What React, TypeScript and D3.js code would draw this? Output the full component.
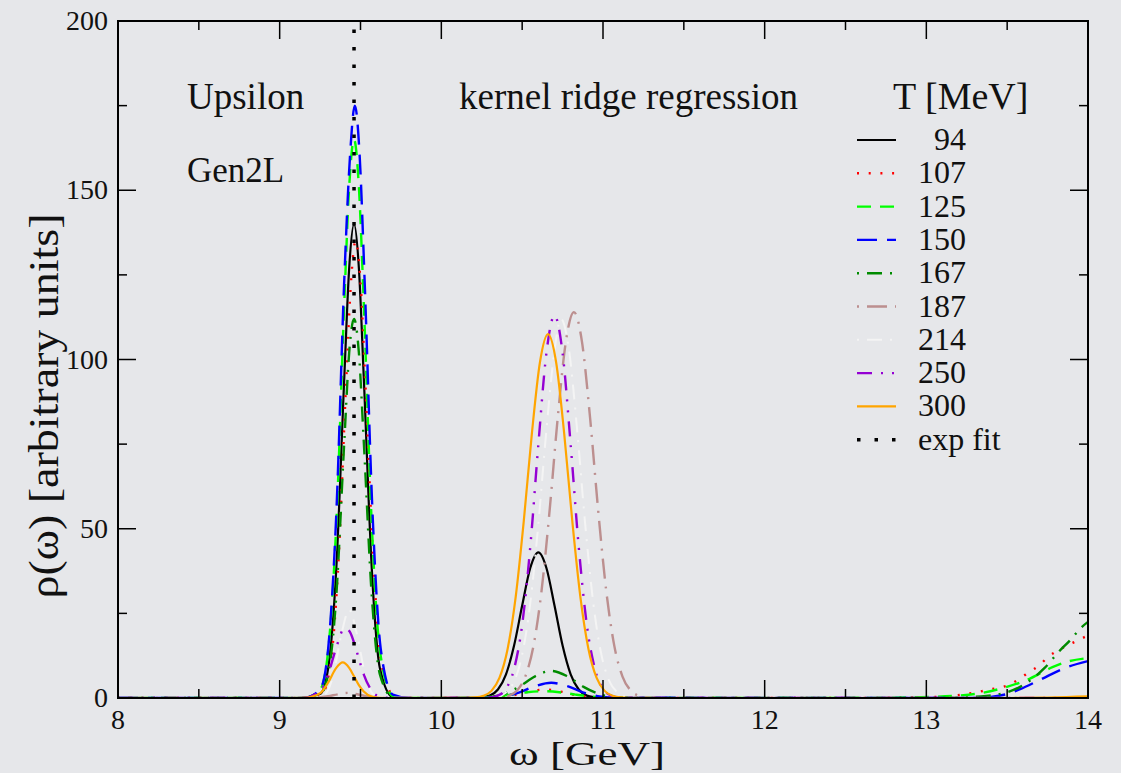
import React from "react";
import * as d3 from "d3";

type Pt = [number, number];

const xTicks = [8, 9, 10, 11, 12, 13, 14];
const yTicks = [0, 50, 100, 150, 200];

const t94: Pt[] = [[8,0],[9.1,0],[9.25,1.2],[9.3,8.8],[9.35,38],[9.4,95],[9.43,127],[9.46,140],[9.49,127],[9.52,95],[9.57,38],[9.62,8.8],[9.7,0.3],[9.8,0],[10.2,0.03],[10.25,0.2],[10.3,0.7],[10.35,2.5],[10.4,7],[10.45,15.5],[10.5,27.3],[10.55,38.4],[10.6,43],[10.65,38.4],[10.7,27.3],[10.75,15.5],[10.8,7],[10.85,2.5],[10.9,0.7],[10.95,0.2],[11.0,0.03],[11.1,0],[14,0]];
const t107: Pt[] = [[8,0],[9.15,0],[9.26,1.2],[9.31,8.5],[9.36,37],[9.41,92],[9.44,122],[9.47,135],[9.5,123],[9.53,93],[9.58,40],[9.63,10],[9.71,0.5],[9.8,0],[10.24,0.02],[10.34,0.17],[10.44,0.77],[10.54,1.9],[10.64,2.5],[10.74,1.9],[10.84,0.77],[10.94,0.17],[11.04,0.02],[12.6,0],[12.9,0.15],[13.1,0.4],[13.25,1.2],[13.38,2.4],[13.52,4.1],[13.58,5.8],[13.64,7.8],[13.7,9.7],[13.75,12.0],[13.82,14.2],[13.94,17.1],[14,18.5]];
const t125: Pt[] = [[8,0],[9.15,0],[9.25,2.4],[9.3,14],[9.35,51],[9.4,117],[9.43,151],[9.46,165],[9.49,151],[9.52,117],[9.57,51],[9.62,14],[9.7,0.6],[9.8,0],[10.13,0.03],[10.23,0.13],[10.33,0.42],[10.43,1.0],[10.53,1.7],[10.63,2],[10.73,1.7],[10.83,1.0],[10.93,0.42],[11.03,0.13],[11.13,0.03],[12.6,0],[12.92,0.2],[13.19,0.7],[13.33,1.4],[13.47,2.9],[13.62,5.3],[13.78,9.1],[13.87,10.7],[14,11.8]];
const t150: Pt[] = [[8,0],[9.15,0],[9.25,2.5],[9.3,14.6],[9.35,54],[9.4,124],[9.435,160],[9.465,175],[9.495,160],[9.525,124],[9.575,54],[9.625,14.6],[9.7,1],[9.8,0],[10.28,0.08],[10.38,0.45],[10.48,1.6],[10.58,3.5],[10.68,4.5],[10.78,3.5],[10.88,1.6],[10.98,0.45],[11.08,0.08],[13.3,0],[13.4,0.3],[13.5,1.2],[13.58,2.6],[13.7,5.3],[13.87,9.1],[14,10.9]];
const t167: Pt[] = [[8,0],[9.15,0],[9.25,1],[9.3,7],[9.35,30],[9.4,76],[9.43,102],[9.46,112],[9.49,102],[9.52,76],[9.57,30],[9.62,7],[9.7,0.2],[9.8,0],[10.18,0.03],[10.28,0.23],[10.38,1.1],[10.48,3.3],[10.58,6.4],[10.68,8],[10.78,6.4],[10.88,3.3],[10.98,1.1],[11.08,0.23],[11.18,0.03],[13.1,0],[13.37,0.6],[13.58,3.3],[13.66,5.8],[13.73,8.8],[13.82,13.7],[13.89,17.1],[13.96,20.9],[14,22.5]];
const t187: Pt[] = [[8,0],[9.2,0],[9.3,0.5],[9.36,1.1],[9.42,1.5],[9.48,1.1],[9.54,0.5],[9.64,0],[10.32,0.04],[10.37,0.17],[10.42,0.68],[10.47,2.3],[10.52,6.4],[10.57,15.4],[10.62,31.7],[10.67,55.5],[10.72,82.8],[10.77,105.2],[10.82,114],[10.87,105.2],[10.92,82.8],[10.97,55.5],[11.02,31.7],[11.07,15.4],[11.12,6.4],[11.17,2.3],[11.22,0.68],[11.27,0.17],[11.32,0.04],[11.4,0],[14,0]];
const t214: Pt[] = [[8,0],[9.2,0.05],[9.28,1.1],[9.33,6.5],[9.38,18.4],[9.43,26],[9.48,18.4],[9.53,6.5],[9.58,1.1],[9.66,0.05],[10.3,0.1],[10.35,0.43],[10.4,1.6],[10.45,4.9],[10.5,12.8],[10.55,28],[10.6,51.3],[10.65,79.2],[10.7,102.7],[10.74,112],[10.79,102.7],[10.84,79.2],[10.89,51.3],[10.94,28],[10.99,12.8],[11.04,4.9],[11.09,1.6],[11.14,0.43],[11.2,0.1],[11.3,0],[14,0]];
const t250: Pt[] = [[8,0],[9.1,0],[9.15,0.05],[9.25,2.1],[9.3,7],[9.35,14.9],[9.4,20.5],[9.43,19.8],[9.46,16.4],[9.49,11.6],[9.52,7],[9.57,2.1],[9.62,0.4],[9.7,0],[10.3,0.15],[10.35,0.7],[10.4,2.7],[10.45,8.6],[10.5,21.6],[10.55,44.6],[10.6,74.8],[10.65,101.9],[10.7,113],[10.75,101.9],[10.8,74.8],[10.85,44.6],[10.9,21.6],[10.95,8.6],[11,2.7],[11.05,0.7],[11.1,0.15],[11.2,0],[14,0]];
const t300: Pt[] = [[8,0],[9.1,0],[9.15,0.03],[9.25,1.4],[9.3,4.6],[9.35,8.9],[9.39,10.5],[9.43,8.9],[9.46,6.4],[9.49,3.8],[9.52,1.9],[9.57,0.4],[9.62,0.05],[9.7,0],[10.16,0.04],[10.21,0.16],[10.26,0.64],[10.31,2.1],[10.36,6.0],[10.41,14.5],[10.46,29.9],[10.51,52.3],[10.56,78.1],[10.61,99.2],[10.66,107.5],[10.71,99.2],[10.76,78.1],[10.81,52.3],[10.86,29.9],[10.91,14.5],[10.96,6.0],[11.01,2.1],[11.06,0.64],[11.11,0.16],[11.16,0.04],[11.3,0],[13.5,0],[14,0.5]];
const expFit: Pt[] = [[9.46,0],[9.46,205]];

const legendLabels = ["94", "107", "125", "150", "167", "187", "214", "250", "300", "exp fit"];

const series = [
  { data: t94, color: "#000000", dash: "", width: 2.2 },
  { data: t107, color: "#ff0000", dash: "2 9.7", width: 2.4 },
  { data: t125, color: "#00ff00", dash: "14 9", width: 2.4 },
  { data: t150, color: "#0000ff", dash: "20 10", width: 2.4 },
  { data: t167, color: "#008b00", dash: "2 8 15 8", width: 2.4 },
  { data: t187, color: "#bc8f8f", dash: "2 8 20 8", width: 2.4 },
  { data: t214, color: "#f4f4f4", dash: "2 8 15 8", width: 2.0 },
  { data: t250, color: "#9400d3", dash: "15 9 2 9 2 9", width: 2.4 },
  { data: t300, color: "#ffa500", dash: "", width: 2.2 },
  { data: expFit, color: "#000000", dash: "3.5 14", width: 3.5, linear: true },
];

const FONT = "'Liberation Serif', 'Times New Roman', Times, 'Nimbus Roman', 'DejaVu Serif', serif";

export default function App() {
  const W = 1121, H = 773;
  const x = d3.scaleLinear().domain([8, 14]).range([118, 1088]);
  const y = d3.scaleLinear().domain([0, 200]).range([698, 21]);
  const lineSmooth = d3.line<Pt>().x(d => x(d[0])).y(d => y(d[1])).curve(d3.curveMonotoneX);
  const lineLin = d3.line<Pt>().x(d => x(d[0])).y(d => y(d[1]));
  const xMinor = d3.range(8, 14.01, 0.5);
  const yMinor = d3.range(0, 200.1, 25);
  const [x0, x1] = x.range();
  const [y0, y1] = y.range();
  const ts = { fontFamily: FONT };

  const legY0 = 140, legDy = 33.3;

  return (
    <svg width={W} height={H} style={{ position: "absolute", left: 0, top: 0, background: "#e6e7ea" }}>
      <rect x={0} y={0} width={W} height={H} fill="#e6e7ea" />
      <defs>
        <clipPath id="plotclip">
          <rect x={x0} y={y1} width={x1 - x0} height={y0 - y1} />
        </clipPath>
      </defs>
      <g clipPath="url(#plotclip)">
        {series.map((s, i) => (
          <path key={i} d={(s.linear ? lineLin : lineSmooth)(s.data) || ""} fill="none" stroke={s.color}
            strokeWidth={s.width} strokeDasharray={s.dash || undefined} strokeLinejoin="round" />
        ))}
      </g>
      <rect x={x0} y={y1} width={x1 - x0} height={y0 - y1} fill="none" stroke="#000" strokeWidth={2} />
      {xMinor.map((v, i) => {
        const major = Math.abs(v - Math.round(v)) < 1e-6;
        const len = major ? 18 : 9;
        return (
          <g key={"xt" + i} stroke="#000" strokeWidth={1.5}>
            <line x1={x(v)} x2={x(v)} y1={y0} y2={y0 - len} />
            <line x1={x(v)} x2={x(v)} y1={y1} y2={y1 + len} />
          </g>
        );
      })}
      {yMinor.map((v, i) => {
        const major = v % 50 === 0;
        const len = major ? 18 : 9;
        return (
          <g key={"yt" + i} stroke="#000" strokeWidth={1.5}>
            <line x1={x0} x2={x0 + len} y1={y(v)} y2={y(v)} />
            <line x1={x1} x2={x1 - len} y1={y(v)} y2={y(v)} />
          </g>
        );
      })}
      {xTicks.map(v => (
        <text key={"xl" + v} x={x(v)} y={729} fontSize={28} textAnchor="middle" fill="#111" style={ts}>{v}</text>
      ))}
      {yTicks.map(v => (
        <text key={"yl" + v} x={108} y={y(v) + 9} fontSize={28} textAnchor="end" fill="#111" style={ts}>{v}</text>
      ))}
      <text x={587} y={765} fontSize={33} textAnchor="middle" fill="#111" style={ts}
        textLength={156} lengthAdjust="spacingAndGlyphs">ω [GeV]</text>
      <text transform="translate(58,406) rotate(-90)" fontSize={42} textAnchor="middle" fill="#111" style={ts}
        textLength={385} lengthAdjust="spacingAndGlyphs">ρ(ω) [arbitrary units]</text>

      <text x={187} y={109} fontSize={37} fill="#111" style={ts}>Upsilon</text>
      <text x={187} y={182} fontSize={35} fill="#111" style={ts}>Gen2L</text>
      <text x={459} y={109} fontSize={37} fill="#111" style={ts}>kernel ridge regression</text>
      <text x={893} y={109} fontSize={38} fill="#111" style={ts}>T [MeV]</text>

      {series.map((s, i) => {
        const ly = legY0 + i * legDy;
        return (
          <g key={"lg" + i}>
            <line x1={857} x2={896} y1={ly} y2={ly} stroke={s.color} strokeWidth={s.width}
              strokeDasharray={s.dash || undefined} />
            <text x={i === 0 ? 934 : 918} y={ly + 10} fontSize={32} fill="#111" style={ts}>{legendLabels[i]}</text>
          </g>
        );
      })}
    </svg>
  );
}
